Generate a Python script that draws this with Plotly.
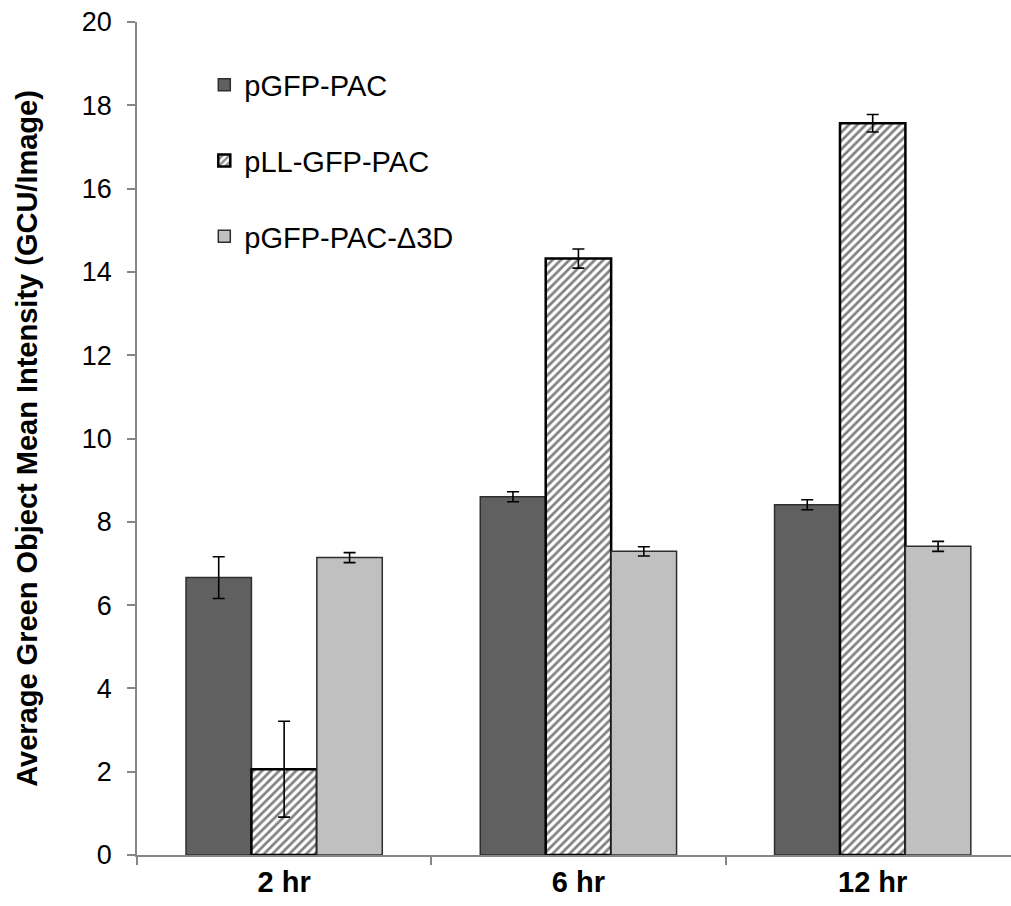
import plotly.graph_objects as go

# Time points and series values (GCU/Image)
timepoints = ["2 hr", "6 hr", "12 hr"]
series_names = ["pGFP-PAC", "pLL-GFP-PAC", "pGFP-PAC-Δ3D"]
pgfp_pac = [6.66, 8.60, 8.41]
pgfp_pac_err = [0.50, 0.12, 0.12]
pll_gfp_pac = [2.06, 14.32, 17.57]
pll_gfp_pac_err = [1.15, 0.23, 0.21]
pgfp_pac_d3d = [7.14, 7.29, 7.41]
pgfp_pac_d3d_err = [0.12, 0.11, 0.12]

FONT = "Liberation Sans, Arial, sans-serif"

err_style = dict(type="data", visible=True, color="black", thickness=1.6, width=6)

fig = go.Figure()
fig.add_trace(go.Bar(
    name=series_names[0], x=timepoints, y=pgfp_pac,
    error_y=dict(array=pgfp_pac_err, **err_style),
    marker=dict(color="#606060", line=dict(color="#2e2e2e", width=1.5)),
    legendgroup="a",
))
fig.add_trace(go.Bar(
    name=series_names[1], x=timepoints, y=pll_gfp_pac,
    error_y=dict(array=pll_gfp_pac_err, **err_style),
    marker=dict(
        color="white",
        line=dict(color="black", width=2.5),
        pattern=dict(shape="/", fgcolor="#808080", bgcolor="white",
                     size=6, solidity=0.45, fillmode="replace"),
    ),
    legendgroup="b",
))
fig.add_trace(go.Bar(
    name=series_names[2], x=timepoints, y=pgfp_pac_d3d,
    error_y=dict(array=pgfp_pac_d3d_err, **err_style),
    marker=dict(color="#c0c0c0", line=dict(color="#2e2e2e", width=1.5)),
    legendgroup="c",
))

fig.update_layout(
    width=1011, height=906,
    margin=dict(l=137, r=0, t=22, b=51),
    paper_bgcolor="white", plot_bgcolor="white",
    font=dict(family=FONT, color="black", size=26),
    barmode="group", bargap=0.333, bargroupgap=0,
    showlegend=True,
    legend=dict(
        x=0.077, y=0.955, xanchor="left", yanchor="top",
        bgcolor="rgba(0,0,0,0)", borderwidth=0,
        font=dict(family=FONT, size=29, color="black"),
        traceorder="grouped", tracegroupgap=35,
    ),
    xaxis=dict(
        type="category", range=[-0.5, 2.47],
        showline=True, linecolor="#868686", linewidth=1.5,
        ticks="outside", tickson="boundaries", ticklen=8,
        tickcolor="#868686", tickwidth=1.5,
        showgrid=False, zeroline=False,
        tickfont=dict(family=FONT, size=29, color="black", weight="bold"),
    ),
    yaxis=dict(
        range=[0, 20], dtick=2, tick0=0,
        showline=True, linecolor="#868686", linewidth=1.5,
        ticks="outside", ticklen=8, tickcolor="#868686", tickwidth=1.5,
        showgrid=False, zeroline=False,
        tickfont=dict(family=FONT, size=27, color="black"),
        ticklabelstandoff=10,
        title=dict(text="Average Green Object Mean Intensity (GCU/Image)",
                   font=dict(family=FONT, size=29, color="black", weight="bold"),
                   standoff=36),
    ),
)

fig.write_html("out.html")
